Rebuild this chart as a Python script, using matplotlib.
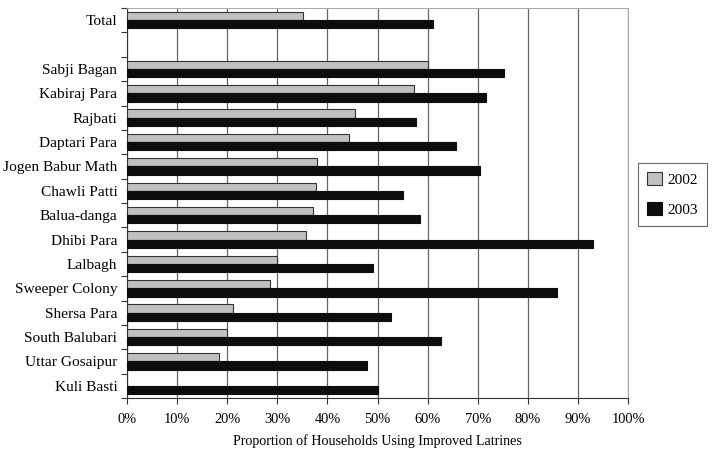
import numpy as np
import matplotlib.pyplot as plt
from matplotlib.ticker import FixedLocator, PercentFormatter

plt.rcParams['font.family'] = ['Liberation Serif', 'DejaVu Serif']
plt.rcParams['font.size'] = 10

categories = ['Total', '', 'Sabji Bagan', 'Kabiraj Para', 'Rajbati', 'Daptari Para',
              'Jogen Babur Math', 'Chawli Patti', 'Balua-danga', 'Dhibi Para',
              'Lalbagh', 'Sweeper Colony', 'Shersa Para', 'South Balubari',
              'Uttar Gosaipur', 'Kuli Basti']
vals_2002 = [35.1, np.nan, 60.0, 57.2, 45.5, 44.3, 38.0, 37.8, 37.1, 35.7,
             30.0, 28.6, 21.1, 20.0, 18.4, 0.0]
vals_2003 = [61.1, np.nan, 75.2, 71.6, 57.7, 65.6, 70.5, 55.1, 58.4, 93.1,
             49.1, 85.9, 52.7, 62.7, 47.9, 50.1]
series_labels = ['2002', '2003']

fig = plt.figure(figsize=(7.13, 4.58), dpi=100)
ax = fig.add_axes([127 / 713, 1 - 398 / 458, (628 - 127) / 713, (398 - 8) / 458])

y = np.arange(len(categories))
h = 0.34
ax.barh(y - h / 2, vals_2002, height=h, color='#c0c0c0', edgecolor='#333333',
        linewidth=0.8, label=series_labels[0], zorder=3)
ax.barh(y + h / 2, vals_2003, height=h, color='#0d0d0d', edgecolor='#0d0d0d',
        linewidth=0.8, label=series_labels[1], zorder=3)

ax.set_ylim(len(categories) - 0.5, -0.5)
ax.set_xlim(0, 100)
ax.set_yticks(y)
ax.set_yticklabels(categories, fontsize=11.1)
ax.tick_params(axis='y', which='major', length=0, pad=7)
ax.yaxis.set_minor_locator(FixedLocator(np.arange(-0.5, len(categories), 1)))
ax.tick_params(axis='y', which='minor', length=4, width=0.8, color='#333333')

ax.set_xticks(np.arange(0, 101, 10))
ax.xaxis.set_major_formatter(PercentFormatter(decimals=0))
ax.tick_params(axis='x', length=4, width=0.8, pad=7, color='#333333', labelsize=10.4)
ax.grid(True, axis='x', color='#666666', linewidth=0.9, zorder=0)

for side in ['top', 'right']:
    ax.spines[side].set_color('#aaaaaa')
for side in ['left', 'bottom']:
    ax.spines[side].set_color('#333333')

ax.set_xlabel('Proportion of Households Using Improved Latrines', labelpad=6,
              fontsize=10.1)

leg = ax.legend(loc='upper left', bbox_to_anchor=(1.02, 0.603), frameon=True,
                fancybox=False, edgecolor='#444444', handlelength=0.95,
                handleheight=0.95, handletextpad=0.35, labelspacing=1.0,
                borderpad=0.6, borderaxespad=0, fontsize=11)
leg.get_frame().set_linewidth(0.8)

plt.savefig('out.png', dpi=100)
